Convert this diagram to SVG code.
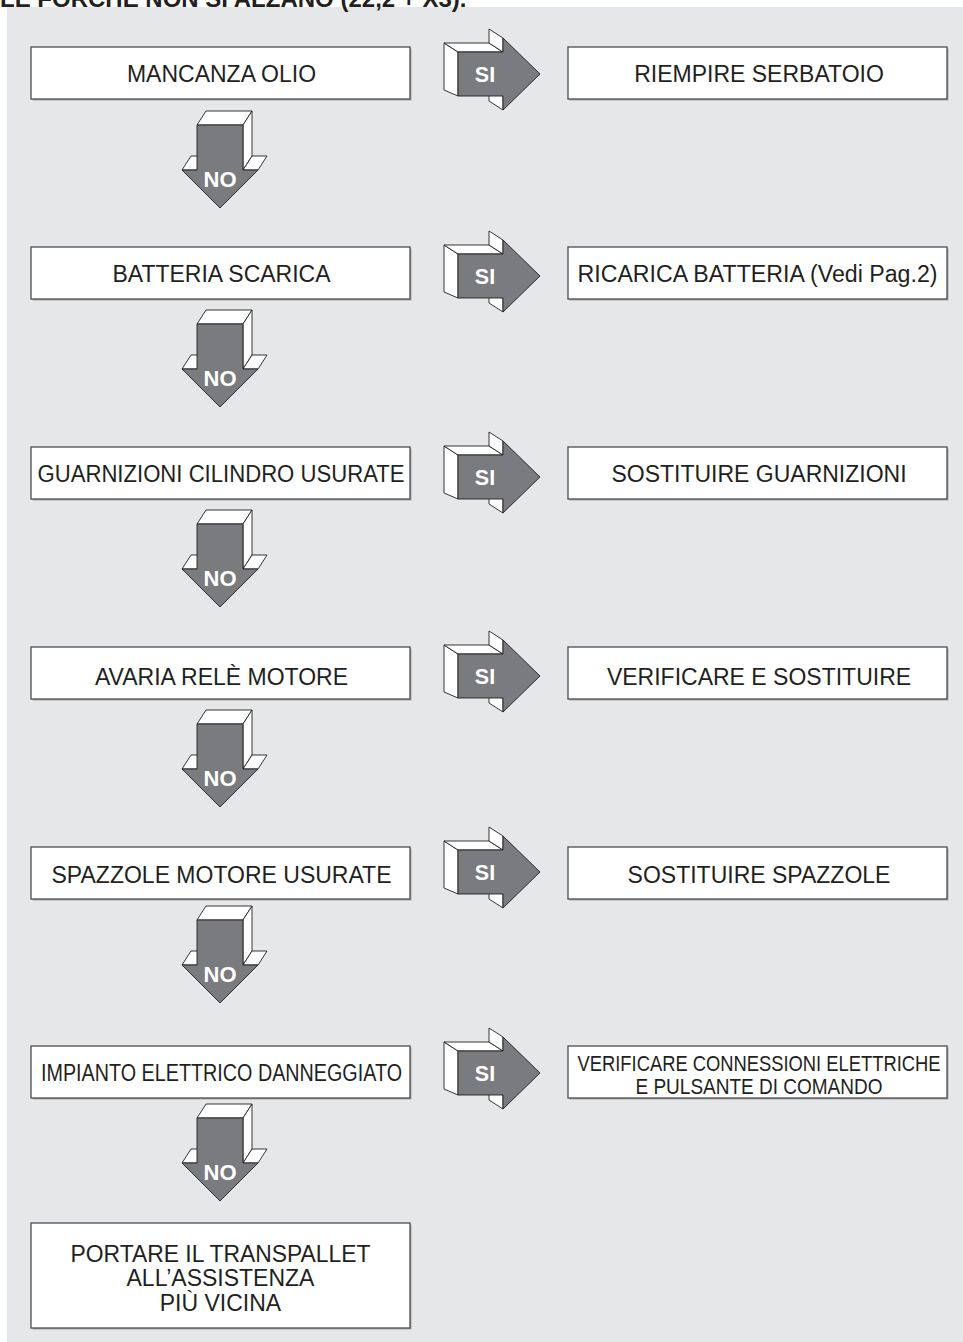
<svg xmlns="http://www.w3.org/2000/svg" xmlns:xlink="http://www.w3.org/1999/xlink" width="963" height="1342" viewBox="0 0 963 1342">
<style>
.bg{fill:#e6e7e8}
.shadow{fill:#a9aaac}
.box{fill:#ffffff;stroke:#4d4d4f;stroke-width:1.3}
.t{font-family:"Liberation Sans",Arial,Helvetica,sans-serif;font-size:23px;fill:#231f20;text-anchor:middle}
.title{font-family:"Liberation Sans",Arial,Helvetica,sans-serif;font-size:24px;font-weight:bold;fill:#231f20}
.face{fill:#ffffff;stroke:#231f20;stroke-width:0.9;stroke-linejoin:round}
.front{fill:#7a7b7e;stroke:#231f20;stroke-width:0.9;stroke-linejoin:round}
.lbl{font-family:"Liberation Sans",Arial,Helvetica,sans-serif;font-size:21.5px;font-weight:bold;fill:#ffffff;text-anchor:middle}
.lblno{font-family:"Liberation Sans",Arial,Helvetica,sans-serif;font-size:22px;font-weight:bold;fill:#ffffff;text-anchor:middle}
</style>
<defs>
<g id="siArrow">
<polygon class="face" points="444,43 458,52 458,96 444,90"/>
<polygon class="face" points="444,43 489,43 503,52 458,52"/>
<polygon class="face" points="489,29 503,38 503,52 489,43"/>
<polygon class="face" points="489,87 503,96 503,110 489,101"/>
<polygon class="front" points="458,52 503,52 503,38 540,74 503,110 503,96 458,96"/>
</g>
<g id="noArrow">
<polygon class="face" points="197,125 206,111 252,111 243,125"/>
<polygon class="face" points="243,125 252,111 252,156 243,170"/>
<polygon class="face" points="243,170 252,156 267,156 258,170"/>
<polygon class="face" points="182,170 191,156 206,156 197,170"/>
<polygon class="front" points="197,125 243,125 243,170 258,170 220,208 182,170 197,170"/>
</g>
</defs>
<rect class="bg" x="7" y="7" width="956" height="1335"/>
<text class="title" x="0" y="7">LE FORCHE NON SI ALZANO (22,2 + X3).</text>

<g id="connectors">
<g id="si1"><use xlink:href="#siArrow"/><text class="lbl" x="485" y="82">SI</text></g>
<g id="si2" transform="translate(0,202)"><use xlink:href="#siArrow"/><text class="lbl" x="485" y="82">SI</text></g>
<g id="si3" transform="translate(0,403)"><use xlink:href="#siArrow"/><text class="lbl" x="485" y="82">SI</text></g>
<g id="si4" transform="translate(0,602)"><use xlink:href="#siArrow"/><text class="lbl" x="485" y="82">SI</text></g>
<g id="si5" transform="translate(0,798)"><use xlink:href="#siArrow"/><text class="lbl" x="485" y="82">SI</text></g>
<g id="si6" transform="translate(0,999)"><use xlink:href="#siArrow"/><text class="lbl" x="485" y="82">SI</text></g>
<g id="no1"><use xlink:href="#noArrow"/><text class="lblno" x="220" y="187">NO</text></g>
<g id="no2" transform="translate(0,199)"><use xlink:href="#noArrow"/><text class="lblno" x="220" y="187">NO</text></g>
<g id="no3" transform="translate(0,399)"><use xlink:href="#noArrow"/><text class="lblno" x="220" y="187">NO</text></g>
<g id="no4" transform="translate(0,599)"><use xlink:href="#noArrow"/><text class="lblno" x="220" y="187">NO</text></g>
<g id="no5" transform="translate(0,795)"><use xlink:href="#noArrow"/><text class="lblno" x="220" y="187">NO</text></g>
<g id="no6" transform="translate(0,993)"><use xlink:href="#noArrow"/><text class="lblno" x="220" y="187">NO</text></g>
</g>

<g id="q1"><rect class="shadow" x="32.5" y="48.5" width="379" height="52"/><rect class="box" x="31" y="47" width="379" height="52"/><text class="t" x="221.5" y="82">MANCANZA OLIO</text></g>
<g id="a1"><rect class="shadow" x="569.5" y="48.5" width="379" height="52"/><rect class="box" x="568" y="47" width="379" height="52"/><text class="t" x="759" y="82">RIEMPIRE SERBATOIO</text></g>

<g id="q2"><rect class="shadow" x="32.5" y="248.5" width="379" height="52"/><rect class="box" x="31" y="247" width="379" height="52"/><text class="t" x="221.5" y="282">BATTERIA SCARICA</text></g>
<g id="a2"><rect class="shadow" x="569.5" y="248.5" width="379" height="52"/><rect class="box" x="568" y="247" width="379" height="52"/><text class="t" x="757.5" y="282" textLength="360" lengthAdjust="spacingAndGlyphs">RICARICA BATTERIA (Vedi Pag.2)</text></g>

<g id="q3"><rect class="shadow" x="32.5" y="448.5" width="379" height="52"/><rect class="box" x="31" y="447" width="379" height="52"/><text class="t" x="221" y="482" textLength="367" lengthAdjust="spacingAndGlyphs">GUARNIZIONI CILINDRO USURATE</text></g>
<g id="a3"><rect class="shadow" x="569.5" y="448.5" width="379" height="52"/><rect class="box" x="568" y="447" width="379" height="52"/><text class="t" x="759" y="482">SOSTITUIRE GUARNIZIONI</text></g>

<g id="q4"><rect class="shadow" x="32.5" y="648.5" width="379" height="52"/><rect class="box" x="31" y="647" width="379" height="52"/><text class="t" x="221.5" y="685">AVARIA RELÈ MOTORE</text></g>
<g id="a4"><rect class="shadow" x="569.5" y="648.5" width="379" height="52"/><rect class="box" x="568" y="647" width="379" height="52"/><text class="t" x="759" y="685">VERIFICARE E SOSTITUIRE</text></g>

<g id="q5"><rect class="shadow" x="32.5" y="848.5" width="379" height="52"/><rect class="box" x="31" y="847" width="379" height="52"/><text class="t" x="221.5" y="883">SPAZZOLE MOTORE USURATE</text></g>
<g id="a5"><rect class="shadow" x="569.5" y="848.5" width="379" height="52"/><rect class="box" x="568" y="847" width="379" height="52"/><text class="t" x="759" y="883">SOSTITUIRE SPAZZOLE</text></g>

<g id="q6"><rect class="shadow" x="32.5" y="1047.5" width="379" height="52"/><rect class="box" x="31" y="1046" width="379" height="52"/><text class="t" x="221.5" y="1081" textLength="361" lengthAdjust="spacingAndGlyphs">IMPIANTO ELETTRICO DANNEGGIATO</text></g>
<g id="a6"><rect class="shadow" x="569.5" y="1047.5" width="379" height="52"/><rect class="box" x="568" y="1046" width="379" height="52"/><text class="t" x="759" y="1071" style="font-size:21.5px" textLength="363" lengthAdjust="spacingAndGlyphs">VERIFICARE CONNESSIONI ELETTRICHE</text><text class="t" x="759" y="1094" style="font-size:21.5px" textLength="247" lengthAdjust="spacingAndGlyphs">E PULSANTE DI COMANDO</text></g>

<g id="end"><rect class="shadow" x="32.5" y="1224.5" width="379" height="105"/><rect class="box" x="31" y="1223" width="379" height="105"/><text class="t" x="220.5" y="1262" textLength="300" lengthAdjust="spacingAndGlyphs">PORTARE IL TRANSPALLET</text><text class="t" x="220.5" y="1286">ALL’ASSISTENZA</text><text class="t" x="220.5" y="1311">PIÙ VICINA</text></g>
</svg>
